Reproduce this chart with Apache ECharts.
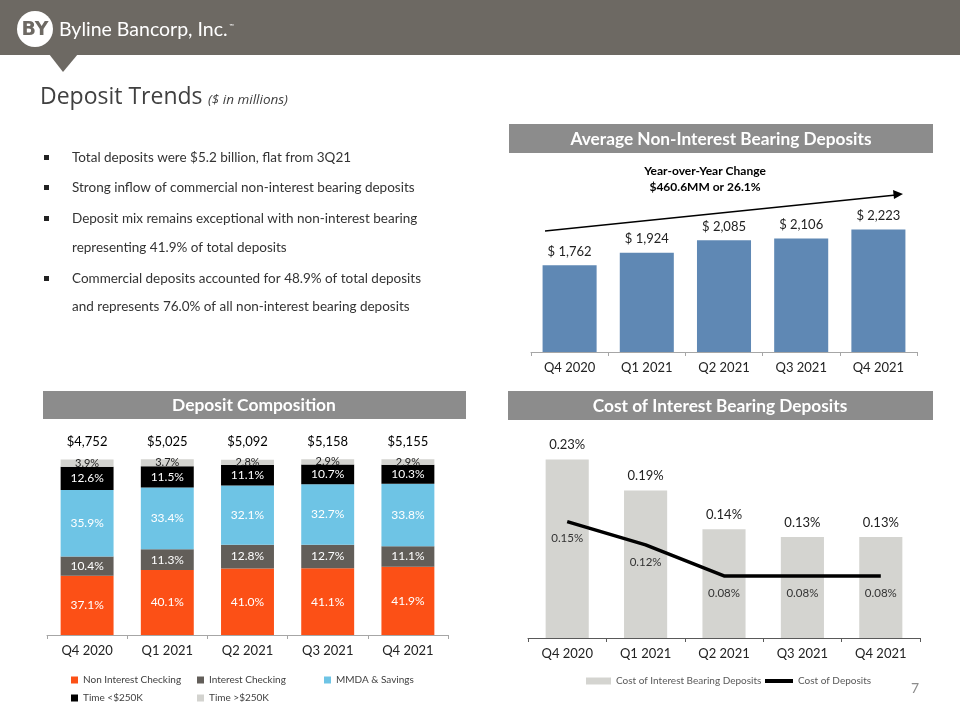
<!DOCTYPE html>
<html><head><meta charset="utf-8">
<script src="https://cdn.jsdelivr.net/npm/echarts@6/dist/echarts.min.js"></script>
<style>html,body{margin:0;padding:0;background:#fff}#c{width:960px;height:720px}</style>
</head><body><div id="c"></div>
<script>
const categories = ['Q4 2020', 'Q1 2021', 'Q2 2021', 'Q3 2021', 'Q4 2021'];
const avgNonInterest = [1762, 1924, 2085, 2106, 2223];
const totalDeposits = [4752, 5025, 5092, 5158, 5155];
const nonInterestChecking = [37.1, 40.1, 41.0, 41.1, 41.9];
const interestChecking = [10.4, 11.3, 12.8, 12.7, 11.1];
const mmdaSavings = [35.9, 33.4, 32.1, 32.7, 33.8];
const timeUnder250 = [12.6, 11.5, 11.1, 10.7, 10.3];
const timeOver250 = [3.9, 3.7, 2.8, 2.9, 2.9];
const costInterestBearing = [0.23, 0.19, 0.14, 0.13, 0.13];
const costOfDeposits = [0.15, 0.12, 0.08, 0.08, 0.08];
const bullets = [
  ['Total deposits were $5.2 billion, flat from 3Q21'],
  ['Strong inflow of commercial non-interest bearing deposits'],
  ['Deposit mix remains exceptional with non-interest bearing', 'representing 41.9% of total deposits'],
  ['Commercial deposits accounted for 48.9% of total deposits', 'and represents 76.0% of all non-interest bearing deposits']
];

const F = 'Lato, "Noto Sans", sans-serif';
const chart = echarts.init(document.getElementById('c'));
const fmtMoney = v => v.toLocaleString('en-US');

const graphics = [
  {type:'rect', shape:{x:0,y:0,width:960,height:55}, style:{fill:'#6d6963'}},
  {type:'polygon', shape:{points:[[49,54],[78,54],[63,72]]}, style:{fill:'#6d6963'}},
  {type:'circle', shape:{cx:35,cy:29,r:18}, style:{fill:'#ffffff'}},
  {type:'text', x:35, y:30, style:{text:'BY', fill:'#6d6963', font:'bold 19px "DejaVu Sans", sans-serif', textAlign:'center', textVerticalAlign:'middle'}},
  {type:'text', x:59, y:30, style:{text:'Byline Bancorp, Inc.', fill:'#ffffff', font:'19.5px ' + F, textAlign:'left', textVerticalAlign:'middle'}},
  {type:'text', x:229, y:26, style:{text:'™', fill:'#ffffff', font:'6px ' + F, textAlign:'left', textVerticalAlign:'middle'}},
  {type:'text', x:40, y:97, style:{text:'Deposit Trends', fill:'#404040', font:'23px "Open Sans", sans-serif', textAlign:'left', textVerticalAlign:'middle'}},
  {type:'text', x:208, y:100, style:{text:'($ in millions)', fill:'#404040', font:'italic 13.5px "Open Sans", sans-serif', textAlign:'left', textVerticalAlign:'middle'}},
  // section headers
  {type:'rect', shape:{x:509,y:124,width:424,height:29}, style:{fill:'#8c8c8c'}},
  {type:'text', x:721, y:139, style:{text:'Average Non-Interest Bearing Deposits', fill:'#ffffff', font:'bold 17.3px ' + F, textAlign:'center', textVerticalAlign:'middle'}},
  {type:'rect', shape:{x:43,y:391,width:423,height:28}, style:{fill:'#8c8c8c'}},
  {type:'text', x:254, y:405, style:{text:'Deposit Composition', fill:'#ffffff', font:'bold 17.4px ' + F, textAlign:'center', textVerticalAlign:'middle'}},
  {type:'rect', shape:{x:508,y:391,width:425,height:29}, style:{fill:'#8c8c8c'}},
  {type:'text', x:720, y:406, style:{text:'Cost of Interest Bearing Deposits', fill:'#ffffff', font:'bold 17.3px ' + F, textAlign:'center', textVerticalAlign:'middle'}},
  // YoY annotation
  {type:'text', x:705, y:171, style:{text:'Year-over-Year Change', fill:'#000', font:'bold 12px ' + F, textAlign:'center', textVerticalAlign:'middle'}},
  {type:'text', x:705, y:187, style:{text:'$460.6MM or 26.1%', fill:'#000', font:'bold 12px ' + F, textAlign:'center', textVerticalAlign:'middle'}},
  {type:'line', shape:{x1:545,y1:231,x2:896,y2:195}, style:{stroke:'#000', lineWidth:1.5}},
  {type:'polygon', shape:{points:[[903,194],[893,190],[894,199]]}, style:{fill:'#000'}},
  {type:'text', x:915, y:688, style:{text:'7', fill:'#8c8c8c', font:'14px ' + F, textAlign:'center', textVerticalAlign:'middle'}}
];
const lineYs = [[158],[188],[219,248],[279,307]];
bullets.forEach((b, i) => {
  graphics.push({type:'rect', shape:{x:44,y:lineYs[i][0]-3,width:5,height:5}, style:{fill:'#222'}});
  b.forEach((t, j) => graphics.push({type:'text', x:72, y:lineYs[i][j], style:{text:t, fill:'#333', font:'13.5px ' + F, textAlign:'left', textVerticalAlign:'middle'}}));
});

const axisLabel = {color:'#222', fontSize:13, fontFamily:F, margin:9};
const axisLine = {show:true, lineStyle:{color:'#a6a6a6'}};
const axisTick = {show:true, length:4, lineStyle:{color:'#a6a6a6'}};
const inLbl = {show:true, position:'inside', color:'#fff', fontSize:12, fontFamily:F, formatter: p => p.value.toFixed(1) + '%'};
const legText = {color:'#404040', fontSize:10, fontFamily:F};

chart.setOption({
  animation:false,
  graphic: graphics,
  grid: [
    {left:531, width:386, top:200, bottom:368},
    {left:47, width:401, top:459, bottom:85},
    {left:528, width:392, top:444, bottom:82}
  ],
  xAxis: [
    {gridIndex:0, type:'category', data:categories, axisLine, axisTick, axisLabel},
    {gridIndex:1, type:'category', data:categories, axisLine, axisTick, axisLabel},
    {gridIndex:2, type:'category', data:categories, axisLine:{show:true, lineStyle:{color:'#595959'}}, axisTick:{show:true,length:4,lineStyle:{color:'#595959'}}, axisLabel}
  ],
  yAxis: [
    {gridIndex:0, type:'value', min:650, max:2600, show:false},
    {gridIndex:1, type:'value', min:5, max:100.2, show:false},
    {gridIndex:2, type:'value', min:0, max:0.25, show:false}
  ],
  legend: [
    {left:66, top:670, itemWidth:7, itemHeight:7, icon:'rect', textStyle:legText, data:['Non Interest Checking']},
    {left:192, top:670, itemWidth:7, itemHeight:7, icon:'rect', textStyle:legText, data:['Interest Checking']},
    {left:319, top:670, itemWidth:7, itemHeight:7, icon:'rect', textStyle:legText, data:['MMDA & Savings']},
    {left:66, top:688, itemWidth:7, itemHeight:7, icon:'rect', textStyle:legText, data:['Time <$250K']},
    {left:192, top:688, itemWidth:7, itemHeight:7, icon:'rect', textStyle:legText, data:['Time >$250K']},
    {left:581, top:671, itemWidth:25, itemHeight:7, icon:'rect', textStyle:{color:'#595959', fontSize:10, fontFamily:F}, data:['Cost of Interest Bearing Deposits']},
    {left:760, top:671, itemWidth:28, itemHeight:4, icon:'rect', textStyle:{color:'#595959', fontSize:10, fontFamily:F}, data:['Cost of Deposits']}
  ],
  series: [
    {type:'bar', xAxisIndex:0, yAxisIndex:0, data:avgNonInterest, barWidth:'70%', itemStyle:{color:'#5f88b4'},
     label:{show:true, position:'top', distance:7, color:'#222', fontSize:13, fontFamily:F, formatter:p => '$ ' + fmtMoney(p.value)}},
    {name:'Non Interest Checking', type:'bar', stack:'c', xAxisIndex:1, yAxisIndex:1, data:nonInterestChecking, barWidth:'66%', itemStyle:{color:'#fc5016'}, label:inLbl},
    {name:'Interest Checking', type:'bar', stack:'c', xAxisIndex:1, yAxisIndex:1, data:interestChecking, itemStyle:{color:'#625e59'}, label:inLbl},
    {name:'MMDA & Savings', type:'bar', stack:'c', xAxisIndex:1, yAxisIndex:1, data:mmdaSavings, itemStyle:{color:'#6ec4e5'}, label:inLbl},
    {name:'Time <$250K', type:'bar', stack:'c', xAxisIndex:1, yAxisIndex:1, data:timeUnder250, itemStyle:{color:'#000000'}, label:inLbl},
    {name:'Time >$250K', type:'bar', stack:'c', xAxisIndex:1, yAxisIndex:1, data:timeOver250, itemStyle:{color:'#d3d3cf'},
     label:Object.assign({}, inLbl, {color:'#222', fontSize:11})},
    {name:'Total', type:'bar', stack:'c', xAxisIndex:1, yAxisIndex:1, data:totalDeposits.map(() => 0), itemStyle:{color:'transparent'},
     label:{show:true, position:'top', distance:11, color:'#000', fontSize:13, fontFamily:F, formatter:p => '$' + fmtMoney(totalDeposits[p.dataIndex])}},
    {name:'Cost of Interest Bearing Deposits', type:'bar', xAxisIndex:2, yAxisIndex:2, data:costInterestBearing, barWidth:'55%', itemStyle:{color:'#d4d4d0'},
     label:{show:true, position:'top', distance:8, color:'#222', fontSize:13, fontFamily:F, formatter:p => p.value.toFixed(2) + '%'}},
    {name:'Cost of Deposits', type:'line', xAxisIndex:2, yAxisIndex:2, data:costOfDeposits, symbol:'circle', symbolSize:0, showSymbol:true, lineStyle:{color:'#000', width:3.5}, itemStyle:{color:'#000'},
     label:{show:true, position:'bottom', distance:11, color:'#333', fontSize:11.5, fontFamily:F, formatter:p => p.value.toFixed(2) + '%'}}
  ]
});
</script></body></html>
